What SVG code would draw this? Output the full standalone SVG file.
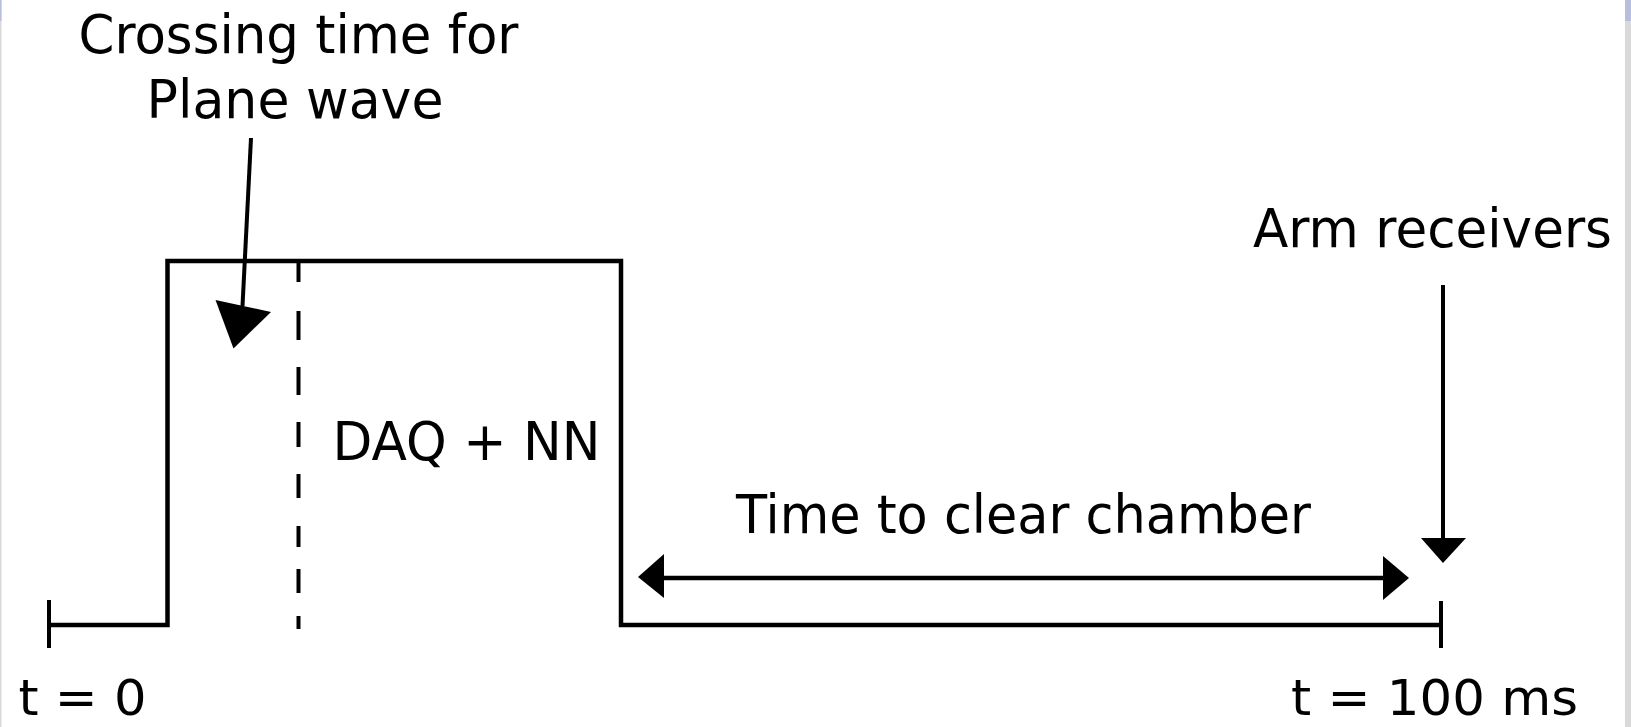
<svg xmlns="http://www.w3.org/2000/svg" width="1631" height="727" viewBox="0 0 1631 727">
  <defs>
    <style>
      .lbl { font-family: "DejaVu Sans", Verdana, sans-serif; font-size: 53px; fill: #000; }
      .lbl-b { font-family: "DejaVu Sans", Verdana, sans-serif; font-size: 50px; fill: #000; }
      .ln { stroke: #000; stroke-width: 4.5; fill: none; }
      .thin { stroke: #000; stroke-width: 4; fill: none; }
      .dash { stroke: #000; stroke-width: 4; fill: none; }
      .head { fill: #000; stroke: none; }
    </style>
  </defs>
  <rect x="0" y="0" width="1631" height="727" fill="#ffffff"/>
  <rect x="0" y="0" width="1.5" height="727" fill="#d9d9d9"/>
  <rect x="0" y="0" width="1.5" height="21" fill="#b8bedd"/>
  <rect x="1625" y="0" width="6" height="727" fill="#d9d9d9"/>
  <rect x="1625" y="0" width="6" height="21" fill="#b8bedd"/>

  <g id="pulse">
    <polyline class="ln" points="49,625 167.5,625 167.5,261 621,261 621,625 1441,625"/>
    <line class="thin" x1="49" y1="600" x2="49" y2="648"/>
    <line class="thin" x1="1441" y1="601" x2="1441" y2="648"/>
  </g>

  <g id="dashed-marker">
    <path class="dash" d="M298.5,263V282 M298.5,311V340 M298.5,367V395 M298.5,422V447 M298.5,474V498 M298.5,526V547 M298.5,569V593 M298.5,616V629"/>
  </g>

  <g id="connectors">
    <line class="thin" x1="251" y1="138" x2="242.5" y2="306"/>
    <polygon class="head" points="215.5,300 271,312 233.5,348.5"/>
    <line class="thin" x1="1443" y1="285" x2="1443" y2="540"/>
    <polygon class="head" points="1421,538 1466,538 1443,563"/>
    <line class="ln" x1="660" y1="578" x2="1386" y2="578"/>
    <polygon class="head" points="638,577 664,554 664,598"/>
    <polygon class="head" points="1409,578 1383,556 1383,600"/>
  </g>

  <g id="label-crossing">
    <text class="lbl" x="78.5" y="53" textLength="440" lengthAdjust="spacingAndGlyphs">Crossing time for</text>
    <text class="lbl" x="146.5" y="118" textLength="297" lengthAdjust="spacingAndGlyphs">Plane wave</text>
  </g>
  <g id="label-arm">
    <text class="lbl" x="1253" y="247" textLength="359" lengthAdjust="spacingAndGlyphs">Arm receivers</text>
  </g>
  <g id="label-daq">
    <text class="lbl" x="332.5" y="460" textLength="268" lengthAdjust="spacingAndGlyphs">DAQ + NN</text>
  </g>
  <g id="label-clear">
    <text class="lbl" x="736" y="533" textLength="575" lengthAdjust="spacingAndGlyphs">Time to clear chamber</text>
  </g>
  <g id="label-t0">
    <text class="lbl-b" x="18.5" y="715" textLength="128" lengthAdjust="spacingAndGlyphs">t = 0</text>
  </g>
  <g id="label-t100">
    <text class="lbl-b" x="1291" y="715" textLength="287" lengthAdjust="spacingAndGlyphs">t = 100 ms</text>
  </g>
</svg>
